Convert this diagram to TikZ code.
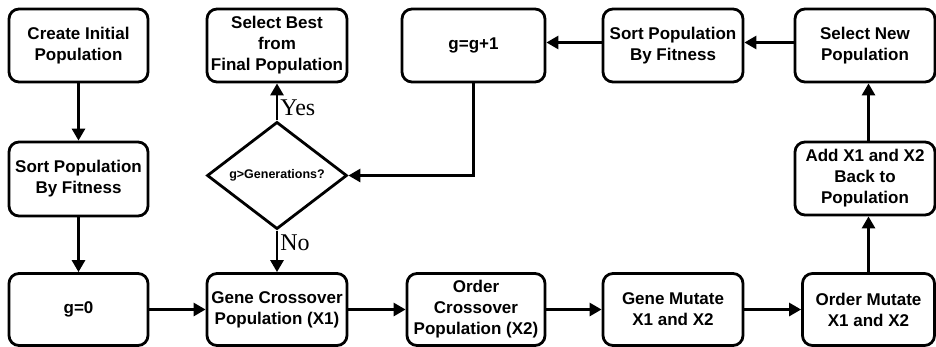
\documentclass[tikz,border=0pt]{standalone}
\usepackage{fontspec}
\setmainfont{Liberation Sans}
\newfontfamily\serifyn{Liberation Serif}
\usetikzlibrary{shapes.geometric,arrows.meta}
\tikzset{
  box/.style={draw, line width=2.8pt, rounded corners=10pt, align=center,
    font=\bfseries\fontsize{17}{21}\selectfont, inner sep=1pt},
  dia/.style={draw, diamond, line width=2.8pt, inner sep=0pt,
    minimum width=140pt, minimum height=105pt, font=\bfseries\fontsize{12.5}{14}\selectfont},
  arr/.style={line width=2.8pt, -{Triangle[length=12pt,width=13pt]}},
  lbl/.style={font=\serifyn\fontsize{24}{26}\selectfont, inner sep=2pt}
}
\begin{document}
\begin{tikzpicture}[x=1pt,y=-1pt]
\useasboundingbox (0,0) rectangle (936,346);
% top row
\node[box, minimum width=139pt, minimum height=73pt] (create) at (78.5,45.5) {Create Initial\\Population};
\node[box, minimum width=140pt, minimum height=73pt] (best) at (277,45.5) {Select Best\\from\\Final Population};
\node[box, minimum width=143pt, minimum height=73pt] (gg) at (473.5,45.5) {g=g+1};
\node[box, minimum width=140pt, minimum height=73pt] (sorttop) at (673,45.5) {Sort Population\\By Fitness};
\node[box, minimum width=140pt, minimum height=73pt] (selnew) at (865,45.5) {Select New\\Population};
% middle row
\node[box, minimum width=139pt, minimum height=74pt] (sortleft) at (78.5,179) {Sort Population\\By Fitness};
\node[dia] (dec) at (277,175.5) {g>Generations?};
\node[box, minimum width=140pt, minimum height=73pt] (addx) at (865,178.5) {Add X1 and X2\\Back to\\Population};
% bottom row
\node[box, minimum width=139pt, minimum height=72pt] (g0) at (78.5,309.5) {g=0};
\node[box, minimum width=140pt, minimum height=72pt] (gc) at (277,309.5) {Gene Crossover\\Population (X1)};
\node[box, minimum width=138pt, minimum height=72pt] (oc) at (476,309.5) {Order\\Crossover\\Population (X2)};
\node[box, minimum width=140pt, minimum height=72pt] (gm) at (673,309.5) {Gene Mutate\\X1 and X2};
\node[box, minimum width=132pt, minimum height=72pt] (om) at (868.5,309.5) {Order Mutate\\X1 and X2};
% connectors
\draw[arr] (create) -- (sortleft);
\draw[arr] (sortleft) -- (g0);
\draw[arr] (g0) -- (gc);
\draw[arr] (gc) -- (oc);
\draw[arr] (oc) -- (gm);
\draw[arr] (gm) -- (om);
\draw[arr] (om.north) -- (addx.south -| om.north);
\draw[arr] (addx.north -| om.north) -- (selnew.south -| om.north);
\draw[arr] ([yshift=3pt]selnew.west) -- ([yshift=3pt]sorttop.east);
\draw[arr] ([yshift=3pt]sorttop.west) -- ([yshift=3pt]gg.east);
\draw[arr] (gg.south) |- (dec.east);
\draw[arr] (dec.north) -- node[lbl, pos=0.35, anchor=west] {Yes} (best.south);
\draw[arr] (dec.south) -- node[lbl, pos=0.3, anchor=west] {No} (gc.north);
\end{tikzpicture}
\end{document}
